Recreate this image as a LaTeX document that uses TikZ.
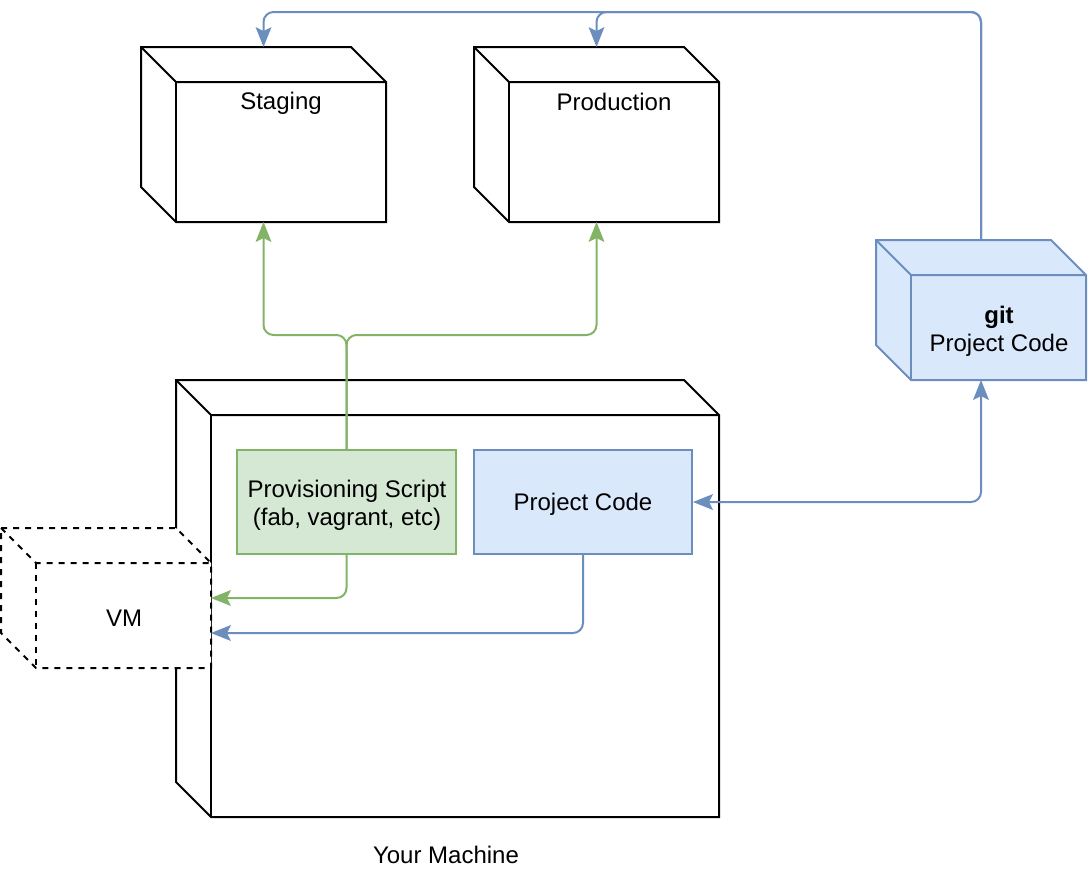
\documentclass[tikz,border=0pt]{standalone}
\usepackage{fontspec}
\setmainfont{Liberation Sans}
\usetikzlibrary{arrows.meta}
\definecolor{gfill}{HTML}{D5E8D4}
\definecolor{gline}{HTML}{82B366}
\definecolor{bfill}{HTML}{DAE8FC}
\definecolor{bline}{HTML}{6C8EBF}
\newcommand\drawcube[2]{%
  \draw[#2] (#1.north west) -- ([xshift=-17.5pt]#1.north east) -- ([yshift=-17.5pt]#1.north east)
    -- (#1.south east) -- ([xshift=17.5pt]#1.south west) -- ([yshift=17.5pt]#1.south west) -- cycle;
  \draw[#2,fill=none] (#1.north west) -- ++(17.5pt,-17.5pt) coordinate (#1-in) -- ([yshift=-17.5pt]#1.north east);
  \draw[#2,fill=none] (#1-in) -- ([xshift=17.5pt]#1.south west);
}
\tikzset{myhead/.tip={Stealth[length=10pt,width=8pt,inset=2pt,line width=0pt]}}
\begin{document}
\begin{tikzpicture}[x=0.5pt,y=-0.5pt,
  every node/.style={font=\fontsize{12}{14.2}\selectfont},
  bbox/.style={inner sep=0pt, outer sep=0pt, minimum width=#1},
  blk/.style={line width=1pt, draw=black, fill=white},
  vmstyle/.style={line width=1pt, draw=black, fill=white, dash pattern=on 3pt off 3pt},
  gitstyle/.style={line width=1pt, draw=bline, fill=bfill},
  gbox/.style={draw=gline, fill=gfill, line width=1pt, inner sep=0pt, minimum width=109.5pt, minimum height=52pt},
  bbx/.style={draw=bline, fill=bfill, line width=1pt, inner sep=0pt, minimum width=109pt, minimum height=52pt},
  garr/.style={draw=gline, line width=1pt, rounded corners=5pt, -myhead},
  barr/.style={draw=bline, line width=1pt, rounded corners=5pt, -myhead},
  barr2/.style={draw=bline, line width=1pt, rounded corners=5pt, myhead-myhead},
]
\useasboundingbox (0,0) rectangle (1090,869);

% outer bounding nodes of cubes
\node[bbox=122.5pt, minimum height=87.5pt] (stag) at (263.5,134.5) {};
\node[bbox=122.5pt, minimum height=87.5pt] (prod) at (596.5,134.5) {};
\node[bbox=271.5pt, minimum height=218.5pt] (mach) at (447.5,598.5) {};
\node[bbox=105pt, minimum height=70pt] (vm) at (106,598) {};
\node[bbox=105pt, minimum height=70pt] (git) at (981,310) {};

\drawcube{stag}{blk}
\drawcube{prod}{blk}
\drawcube{mach}{blk}
\drawcube{vm}{vmstyle}
\drawcube{git}{gitstyle}

% labels
\node (stagL) at (281,103) {Staging};
\node (prodL) at (614,102) {Production};
\node (vmL) at (124,618) {VM};
\node[align=center] (gitL) at (999,331) {\textbf{git}\\Project Code};
\node (machL) at (446,855) {Your Machine};

% inner boxes
\node[gbox] (prov) at (346.5,502) {};
\node[bbx] (proj) at (583,502) {};
\node[align=center] (provL) at (347,505) {Provisioning Script\\(fab, vagrant, etc)};
\node (projL) at (583,504) {Project Code};

% helper coordinates
\coordinate (y335) at (0,335);
\coordinate (y12) at (0,12);
\coordinate (y633) at (0,633);

% connectors
\draw[garr] (prov.north) -- (prov.north |- y335) -- (stag.south |- y335) -- (stag.south);
\draw[garr] (prov.north) -- (prov.north |- y335) -- (prod.south |- y335) -- (prod.south);
\draw[garr] (prov.south) |- (vm.east);
\draw[barr] (proj.south) -- (proj.south |- y633) -- (vm.east |- y633);
\draw[barr2] (proj.east) -| (git.south);
\draw[barr] (git.north) -- (git.north |- y12) -- (prod.north |- y12) -- (prod.north);
\draw[barr] (git.north) -- (git.north |- y12) -- (stag.north |- y12) -- (stag.north);
\end{tikzpicture}
\end{document}
